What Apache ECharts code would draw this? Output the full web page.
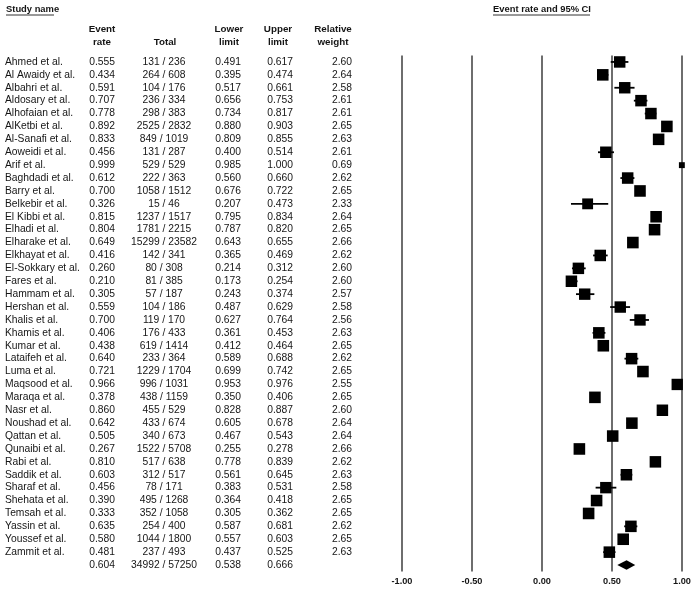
<!DOCTYPE html>
<html>
<head>
<meta charset="utf-8">
<script src="https://cdn.jsdelivr.net/npm/echarts@6/dist/echarts.min.js"></script>
<style>html,body{margin:0;padding:0;background:#fff}#c{width:700px;height:591px}</style>
</head>
<body>
<div id="c"></div>
<script>
const studies = ["Ahmed et al.","Al Awaidy et al.","Albahri et al.","Aldosary et al.","Alhofaian et al.","AlKetbi et al.","Al-Sanafi et al.","Aoweidi et al.","Arif et al.","Baghdadi et al.","Barry et al.","Belkebir et al.","El Kibbi et al.","Elhadi et al.","Elharake et al.","Elkhayat et al.","El-Sokkary et al.","Fares et al.","Hammam et al.","Hershan et al.","Khalis et al.","Khamis et al.","Kumar et al.","Lataifeh et al.","Luma et al.","Maqsood et al.","Maraqa et al.","Nasr et al.","Noushad et al.","Qattan et al.","Qunaibi et al.","Rabi et al.","Saddik et al.","Sharaf et al.","Shehata et al.","Temsah et al.","Yassin et al.","Youssef et al.","Zammit et al."];
const eventRate = [0.555,0.434,0.591,0.707,0.778,0.892,0.833,0.456,0.999,0.612,0.700,0.326,0.815,0.804,0.649,0.416,0.260,0.210,0.305,0.559,0.700,0.406,0.438,0.640,0.721,0.966,0.378,0.860,0.642,0.505,0.267,0.810,0.603,0.456,0.390,0.333,0.635,0.580,0.481];
const events = [131,264,104,236,298,2525,849,131,529,222,1058,15,1237,1781,15299,142,80,81,57,104,119,176,619,233,1229,996,438,455,433,340,1522,517,312,78,495,352,254,1044,237];
const totals = [236,608,176,334,383,2832,1019,287,529,363,1512,46,1517,2215,23582,341,308,385,187,186,170,433,1414,364,1704,1031,1159,529,674,673,5708,638,517,171,1268,1058,400,1800,493];
const lowerLimit = [0.491,0.395,0.517,0.656,0.734,0.880,0.809,0.400,0.985,0.560,0.676,0.207,0.795,0.787,0.643,0.365,0.214,0.173,0.243,0.487,0.627,0.361,0.412,0.589,0.699,0.953,0.350,0.828,0.605,0.467,0.255,0.778,0.561,0.383,0.364,0.305,0.587,0.557,0.437];
const upperLimit = [0.617,0.474,0.661,0.753,0.817,0.903,0.855,0.514,1.000,0.660,0.722,0.473,0.834,0.820,0.655,0.469,0.312,0.254,0.374,0.629,0.764,0.453,0.464,0.688,0.742,0.976,0.406,0.887,0.678,0.543,0.278,0.839,0.645,0.531,0.418,0.362,0.681,0.603,0.525];
const relWeight = [2.60,2.64,2.58,2.61,2.61,2.65,2.63,2.61,0.69,2.62,2.65,2.33,2.64,2.65,2.66,2.62,2.60,2.60,2.57,2.58,2.56,2.63,2.65,2.62,2.65,2.55,2.65,2.60,2.64,2.64,2.66,2.62,2.63,2.58,2.65,2.65,2.62,2.65,2.63];
const summaryRate = 0.604, summaryEvents = 34992, summaryTotal = 57250, summaryLower = 0.538, summaryUpper = 0.666;
const xTicks = [-1, -0.5, 0, 0.5, 1];

const FONT = '"Liberation Sans", Arial, sans-serif';
const TXT = '#151515';
const nRows = studies.length + 1;

const tableData = [];
for (let i = 0; i < studies.length; i++) {
  tableData.push([0, i, studies[i], eventRate[i].toFixed(3), events[i] + ' / ' + totals[i], lowerLimit[i].toFixed(3), upperLimit[i].toFixed(3), relWeight[i].toFixed(2)]);
}
tableData.push([0, studies.length, '', summaryRate.toFixed(3), summaryEvents + ' / ' + summaryTotal, summaryLower.toFixed(3), summaryUpper.toFixed(3), '']);

const forestData = studies.map((s, i) => [eventRate[i], i, lowerLimit[i], upperLimit[i], relWeight[i]]);
const summaryData = [[summaryRate, studies.length, summaryLower, summaryUpper]];

function txt(x, y, s, align) {
  return { type: 'text', style: { x: x, y: y, text: s, align: align, verticalAlign: 'middle', font: '10.3px ' + FONT, fill: TXT } };
}

const chart = echarts.init(document.getElementById('c'), null, { renderer: 'canvas' });
const hdr = (x, y, s) => ({ type: 'text', left: null, style: { x: x, y: y, text: s, align: 'center', verticalAlign: 'middle', font: 'bold 9.8px ' + FONT, fill: TXT } });

chart.setOption({
  animation: false,
  backgroundColor: '#fff',
  grid: { left: 402, right: 18, top: 55.5, bottom: 19.5, containLabel: false },
  xAxis: {
    type: 'value', min: -1, max: 1, interval: 0.5,
    axisLine: { show: false }, axisTick: { show: false },
    splitLine: { show: true, lineStyle: { color: '#4a4a4a', width: 1.6 } },
    axisLabel: { margin: 5, fontFamily: FONT, fontWeight: 'bold', fontSize: 9.2, color: TXT,
      formatter: v => xTicks.indexOf(v) >= 0 ? v.toFixed(2) : '' }
  },
  yAxis: { type: 'value', inverse: true, min: -0.5, max: nRows - 0.5, show: false },
  graphic: [
    { type: 'text', style: { x: 6, y: 9, text: 'Study name', align: 'left', verticalAlign: 'middle', font: 'bold 9.4px ' + FONT, fill: TXT } },
    { type: 'line', shape: { x1: 6, y1: 15, x2: 54, y2: 15 }, style: { stroke: '#333', lineWidth: 1 } },
    { type: 'text', style: { x: 542, y: 9, text: 'Event rate and 95% CI', align: 'center', verticalAlign: 'middle', font: 'bold 9.4px ' + FONT, fill: TXT } },
    { type: 'line', shape: { x1: 493, y1: 15, x2: 590, y2: 15 }, style: { stroke: '#333', lineWidth: 1 } },
    hdr(102, 29, 'Event'), hdr(102, 42, 'rate'),
    hdr(165, 42, 'Total'),
    hdr(229, 29, 'Lower'), hdr(229, 42, 'limit'),
    hdr(278, 29, 'Upper'), hdr(278, 42, 'limit'),
    hdr(333, 29, 'Relative'), hdr(333, 42, 'weight')
  ],
  series: [
    {
      type: 'custom', name: 'table', clip: false, silent: true,
      data: tableData,
      renderItem: function (params, api) {
        const row = api.value(1);
        const y = api.coord([0, row])[1];
        const d = tableData[params.dataIndex];
        return { type: 'group', children: [
          txt(5, y, d[2], 'left'),
          txt(115, y, d[3], 'right'),
          txt(164, y, d[4], 'center'),
          txt(241, y, d[5], 'right'),
          txt(293, y, d[6], 'right'),
          txt(352, y, d[7], 'right')
        ]};
      }
    },
    {
      type: 'custom', name: 'studies', clip: false, silent: true,
      data: forestData,
      renderItem: function (params, api) {
        const row = api.value(1);
        const c = api.coord([api.value(0), row]);
        const lo = api.coord([api.value(2), row]);
        const hi = api.coord([api.value(3), row]);
        const w = api.value(4);
        const s = 11.6 * Math.sqrt(w / 2.66);
        return { type: 'group', children: [
          { type: 'line', shape: { x1: lo[0], y1: c[1], x2: hi[0], y2: c[1] }, style: { stroke: '#000', lineWidth: 1.8 } },
          { type: 'rect', shape: { x: c[0] - s / 2, y: c[1] - s / 2, width: s, height: s }, style: { fill: '#000' } }
        ]};
      }
    },
    {
      type: 'custom', name: 'summary', clip: false, silent: true,
      data: summaryData,
      renderItem: function (params, api) {
        const row = api.value(1);
        const c = api.coord([api.value(0), row]);
        const lo = api.coord([api.value(2), row]);
        const hi = api.coord([api.value(3), row]);
        const h = 4.8;
        return { type: 'polygon', shape: { points: [[lo[0], c[1]], [c[0], c[1] - h], [hi[0], c[1]], [c[0], c[1] + h]] }, style: { fill: '#000' } };
      }
    }
  ]
});
</script>
</body>
</html>
